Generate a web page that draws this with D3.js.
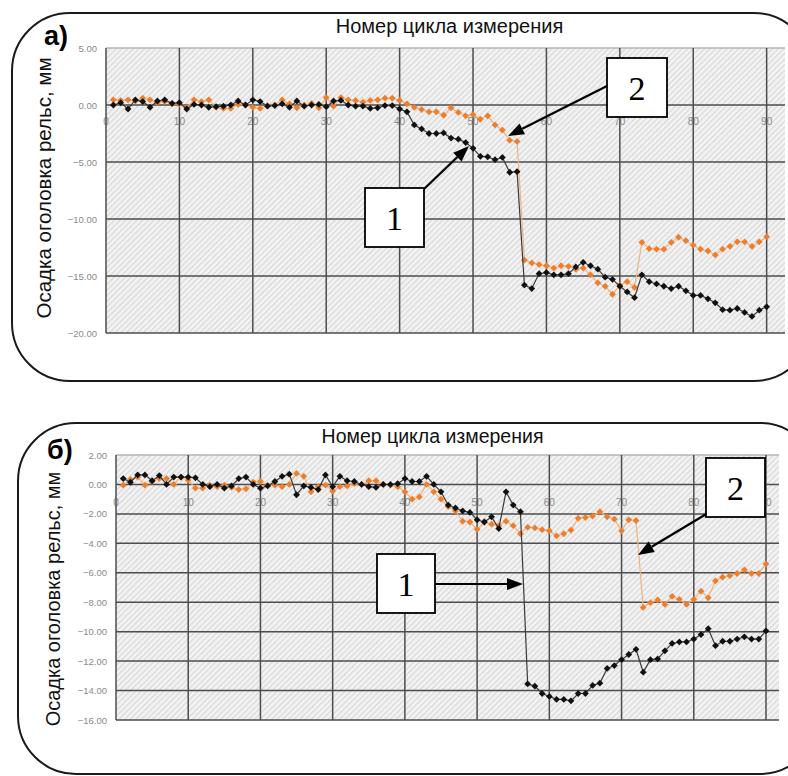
<!DOCTYPE html>
<html><head><meta charset="utf-8">
<script src="https://cdn.jsdelivr.net/npm/d3@7"></script>
<style>body{margin:0;background:#fff;}svg{display:block;}</style>
</head><body>
<svg id="chart" width="788" height="776"></svg>
<script>
// ---------- data ----------
const cycles = d3.range(1, 91);
const xTickLabels = [0, 10, 20, 30, 40, 50, 60, 70, 80, 90];
const yTicksA = [5, 0, -5, -10, -15, -20];
const yTicksB = [2, 0, -2, -4, -6, -8, -10, -12, -14, -16];
const titleText = "Номер цикла измерения";
const yLabelText = "Осадка оголовка рельс, мм";

const blackA = [0.0,0.2,-0.35,0.45,0.3,-0.2,0.35,0.45,0.15,0.2,
 -0.35,0.05,0,-0.2,-0.15,-0.1,0,0.35,0,0.45,
 0.3,-0.1,-0.05,0.1,-0.2,0.35,-0.1,0,0.05,-0.15,
 0.35,0.4,0,-0.1,-0.1,-0.3,-0.25,-0.05,-0.05,-0.35,
 -0.6,-1.75,-2.1,-2.5,-2.5,-2.45,-2.9,-3.0,-3.3,-3.8,
 -4.5,-4.55,-4.8,-4.6,-5.9,-5.85,-15.8,-16.1,-14.8,-14.7,
 -14.9,-14.9,-14.8,-14.2,-13.8,-14.1,-14.4,-15.1,-15.3,-15.9,
 -16.4,-16.9,-14.9,-15.5,-15.7,-15.9,-16.1,-15.9,-16.3,-16.7,
 -16.7,-17.0,-17.35,-17.95,-18.0,-17.85,-18.2,-18.55,-18.0,-17.7];
const orangeA = [0.45,0.4,0.45,0.35,0.6,0.45,0.2,0.3,0.1,0.1,
 -0.2,0.45,0.3,0.45,-0.2,-0.3,-0.3,0.05,0,-0.2,
 -0.3,-0.05,0,0.45,0.1,-0.25,0,0.15,-0.25,0.65,
 -0.1,0.65,0.45,0.4,0.25,0.4,0.45,0.6,0.6,0.4,
 0.1,-0.2,-0.4,-0.6,-0.6,-0.9,-0.25,-0.65,-0.95,-0.85,
 -1.25,-0.95,-1.75,-2.2,-3.1,-3.2,-13.6,-13.85,-14.0,-14.1,
 -14.3,-14.1,-14.15,-14.4,-14.3,-14.9,-15.6,-15.9,-16.6,-15.8,
 -15.5,-16.0,-12.05,-12.6,-12.65,-12.65,-12.05,-11.6,-11.9,-12.3,
 -12.65,-12.8,-13.15,-12.65,-12.4,-12.0,-12.0,-12.4,-12.0,-11.55];
const blackB = [0.4,0.15,0.65,0.65,0.25,0.6,0,0.5,0.5,0.5,
 0.45,0,-0.15,0,-0.25,-0.1,0.4,0.5,0,-0.25,
 -0.1,0.2,0.55,0.7,-0.7,-0.1,-0.2,-0.35,0.65,-0.15,
 0.55,0.25,0.2,0,-0.15,-0.2,0,0,0.05,0.4,
 0.2,0.2,0.55,0,-0.5,-1.4,-1.6,-1.8,-1.9,-2.4,
 -2.55,-2.2,-3.0,-0.5,-1.4,-1.85,-13.55,-13.7,-14.2,-14.4,
 -14.6,-14.6,-14.7,-14.2,-14.2,-13.65,-13.5,-12.5,-12.3,-11.9,
 -11.55,-11.2,-12.75,-11.9,-11.85,-11.3,-10.8,-10.7,-10.7,-10.5,
 -10.2,-9.8,-10.95,-10.65,-10.65,-10.5,-10.35,-10.5,-10.5,-9.95];
const orangeB = [-0.05,0.35,0.5,-0.05,0.2,0.4,0.4,0,0.5,0.3,
 -0.25,-0.25,-0.05,-0.15,-0.05,-0.2,-0.35,-0.3,0.15,0.2,
 -0.05,-0.05,-0.15,0,0.75,0.55,-0.5,-0.15,-0.05,-0.45,
 -0.15,-0.1,0.05,0,0.25,0.25,0,-0.05,-0.15,-0.5,
 -1.0,-0.85,0,-0.5,-1.0,-1.5,-1.8,-2.5,-2.55,-3.05,
 -2.55,-2.7,-2.8,-2.5,-2.8,-3.35,-2.9,-2.95,-3.07,-3.15,
 -3.5,-3.35,-3.1,-2.3,-2.25,-2.15,-1.85,-2.2,-2.35,-3.15,
 -2.4,-2.45,-8.35,-8.03,-7.85,-8.15,-7.6,-7.8,-8.15,-7.8,
 -7.25,-7.7,-6.55,-6.3,-6.2,-6.05,-5.8,-6.05,-6.05,-5.4];

// ---------- drawing ----------
const svg = d3.select("#chart");
const defs = svg.append("defs");
const pat = defs.append("pattern").attr("id","hatch").attr("patternUnits","userSpaceOnUse")
  .attr("width",4).attr("height",4).attr("patternTransform","rotate(45)");
pat.append("rect").attr("width",4).attr("height",4).attr("fill","#f3f3f3");
pat.append("rect").attr("width",1.3).attr("height",4).attr("fill","#d9d9d9");

const panels = [
  {frame:{x:12,y:13,w:800,h:368,r:58}, letter:"а)", lx:44, ly:45, lsize:27,
   title:{x:449.5, y:33, size:20}, ylab:{x:51, y:188, size:20.5},
   xr:[106,785], xd:[0,92.5], yr:[333,48], yd:[-20,5], yTicks:yTicksA, yTickX:97, xTickY:125,
   black:blackA, orange:orangeA,
   boxes:[{x:607,y:58,w:60,h:59,t:"2"},{x:365,y:188,w:59,h:59,t:"1"}],
   arrows:[{x1:607,y1:86,x2:508,y2:136},{x1:423,y1:190,x2:469,y2:146}]},
  {frame:{x:18,y:423,w:800,h:351,r:58}, letter:"б)", lx:47, ly:459, lsize:27,
   title:{x:432.5, y:443, size:19.5}, ylab:{x:60, y:599, size:20},
   xr:[116,779], xd:[0,91.8], yr:[720,455], yd:[-16,2], yTicks:yTicksB, yTickX:107, xTickY:506,
   black:blackB, orange:orangeB,
   boxes:[{x:706,y:458,w:59,h:59,t:"2"},{x:377,y:554,w:58,h:59,t:"1"}],
   arrows:[{x1:708,y1:513,x2:638,y2:555},{x1:435,y1:584,x2:523,y2:584}]}
];

function arrowhead(g, a){
  const ang = Math.atan2(a.y2-a.y1, a.x2-a.x1);
  const L = 16, W = 6;
  const bx = a.x2 - L*Math.cos(ang), by = a.y2 - L*Math.sin(ang);
  g.append("line").attr("x1",a.x1).attr("y1",a.y1).attr("x2",bx).attr("y2",by)
    .attr("stroke","#000").attr("stroke-width",2.2);
  const px = -Math.sin(ang)*W, py = Math.cos(ang)*W;
  g.append("path").attr("d",`M${a.x2},${a.y2}L${bx+px},${by+py}L${bx-px},${by-py}Z`).attr("fill","#000");
}

panels.forEach(p => {
  const g = svg.append("g");
  g.append("rect").attr("x",p.frame.x).attr("y",p.frame.y).attr("width",p.frame.w).attr("height",p.frame.h)
    .attr("rx",p.frame.r).attr("ry",p.frame.r).attr("fill","#fff").attr("stroke","#1a1a1a").attr("stroke-width",2);

  const x = d3.scaleLinear().domain(p.xd).range(p.xr);
  const y = d3.scaleLinear().domain(p.yd).range(p.yr);

  g.append("rect").attr("x",p.xr[0]).attr("y",p.yr[1]).attr("width",p.xr[1]-p.xr[0]).attr("height",p.yr[0]-p.yr[1])
    .attr("fill","url(#hatch)");

  // x tick labels (drawn under grid lines)
  g.selectAll(".xt").data(xTickLabels).enter().append("text")
    .attr("x",d=>x(d)).attr("y",p.xTickY).attr("text-anchor","middle")
    .attr("font-family","Liberation Sans, Arial, sans-serif").attr("font-size",10).attr("fill","#8a8a8a").text(d=>d);

  // grid
  g.selectAll(".hg").data(p.yTicks).enter().append("line")
    .attr("x1",p.xr[0]).attr("x2",p.xr[1]).attr("y1",d=>y(d)).attr("y2",d=>y(d))
    .attr("stroke",(d,i)=> i===0 ? "#b5b5b5" : "#4d4d4d").attr("stroke-width",1.5);
  g.selectAll(".vg").data(xTickLabels).enter().append("line")
    .attr("x1",d=>x(d)).attr("x2",d=>x(d)).attr("y1",p.yr[1]).attr("y2",p.yr[0])
    .attr("stroke","#4d4d4d").attr("stroke-width",1.5);

  // y tick labels
  g.selectAll(".yt").data(p.yTicks).enter().append("text")
    .attr("x",p.yTickX).attr("y",d=>y(d)+3.5).attr("text-anchor","end")
    .attr("font-family","Liberation Sans, Arial, sans-serif").attr("font-size",9.5).attr("fill","#8a8a8a")
    .text(d=>d3.format(".2f")(d));

  // series
  const series = [
    {vals:p.orange, line:"#f2b27e", mark:"#ee7d2c"},
    {vals:p.black, line:"#3a3a3a", mark:"#111"}
  ];
  series.forEach(s => {
    const pts = cycles.map((c,i)=>[c, s.vals[i]]);
    g.append("path").datum(pts)
      .attr("d", d3.line().x(d=>x(d[0])).y(d=>y(d[1])))
      .attr("fill","none").attr("stroke",s.line).attr("stroke-width",1.2);
    g.selectAll(null).data(pts).enter().append("path")
      .attr("transform",d=>`translate(${x(d[0])},${y(d[1])}) rotate(45)`)
      .attr("d", d3.symbol(d3.symbolSquare, 23)())
      .attr("fill",s.mark);
  });

  // titles
  g.append("text").attr("x",p.title.x).attr("y",p.title.y).attr("text-anchor","middle")
    .attr("font-family","Liberation Sans, Arial, sans-serif").attr("font-size",p.title.size).attr("fill","#111").text(titleText);
  g.append("text").attr("x",p.lx).attr("y",p.ly)
    .attr("font-family","Liberation Sans, Arial, sans-serif").attr("font-weight","bold").attr("font-size",p.lsize).attr("fill","#000").text(p.letter);
  g.append("text").attr("transform",`translate(${p.ylab.x},${p.ylab.y}) rotate(-90)`).attr("text-anchor","middle")
    .attr("font-family","Liberation Sans, Arial, sans-serif").attr("font-size",p.ylab.size).attr("fill","#111").text(yLabelText);

  // annotations
  p.arrows.forEach(a => arrowhead(g, a));
  p.boxes.forEach(b => {
    g.append("rect").attr("x",b.x).attr("y",b.y).attr("width",b.w).attr("height",b.h)
      .attr("fill","#fff").attr("stroke","#000").attr("stroke-width",1.8);
    g.append("text").attr("x",b.x+b.w/2).attr("y",b.y+b.h/2+12).attr("text-anchor","middle")
      .attr("font-family","Liberation Serif, Times New Roman, serif").attr("font-size",34).attr("fill","#000").text(b.t);
  });
});
</script>
</body></html>
